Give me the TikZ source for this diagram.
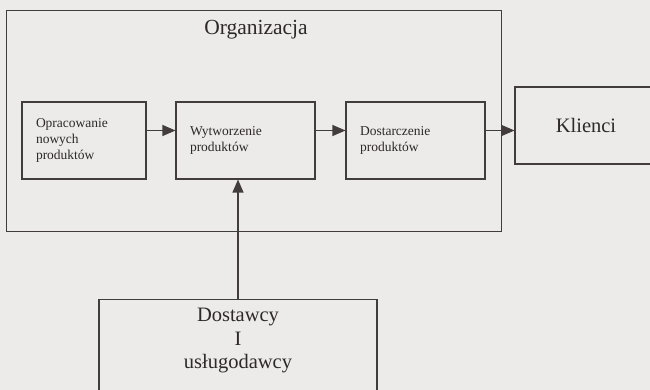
\documentclass[tikz,border=0pt]{standalone}
\usepackage{fontspec}
\setmainfont{Liberation Serif}
\usetikzlibrary{arrows.meta,positioning}

\definecolor{paper}{HTML}{ECEBE9}
\definecolor{ink}{HTML}{2E2828}
\definecolor{rule}{HTML}{433C3C}

\tikzset{
  box/.style={draw=rule,line width=1.1pt,text=ink,inner sep=0pt},
  stepbox/.style={box,minimum height=77pt,align=left,inner xsep=14pt,font=\fontsize{13.5}{16.2}\selectfont},
  bigtext/.style={text=ink,font=\fontsize{20.5}{23.5}\selectfont},
  arr/.style={draw=rule,line width=1.1pt,-{Triangle[length=13pt,width=11pt]}}
}

\begin{document}
\begin{tikzpicture}[x=1pt,y=-1pt]
\useasboundingbox (0,0) rectangle (650,390);
\fill[paper] (0,0) rectangle (650,390);
\clip (0,0) rectangle (650,390);
% organizacja
\node[box,minimum width=495pt,minimum height=221pt,anchor=north west] (org) at (6,10) {};
\node[bigtext,font=\fontsize{21.5}{24}\selectfont,anchor=base] (orgname) at (256,35) {Organizacja};
\node[stepbox,text width=96pt] (b1) at (84,140.5) {Opracowanie\\nowych\\produktów};
\node[stepbox,text width=111pt] (b2) at (245.5,140.5) {Wytworzenie\\produktów};
\node[stepbox,text width=111pt] (b3) at (415.5,140.5) {Dostarczenie\\produktów};
% klienci i dostawcy
\node[box,bigtext,minimum width=142pt,minimum height=77pt] (kl) at (586,125.5) {Klienci};
\node[box,minimum width=278pt,minimum height=110pt,anchor=north] (dost) at (238,299) {};
\node[bigtext,align=center,inner sep=0pt,anchor=north] (dostname) at ([yshift=-9pt]dost.north) {Dostawcy\\I\\usługodawcy};
\draw[arr] ([yshift=10pt]b1.east) coordinate (a1) -- (a1 -| b2.west);
\draw[arr] ([yshift=10pt]b2.east) coordinate (a2) -- (a2 -| b3.west);
\draw[arr] ([yshift=10pt]b3.east) coordinate (a3) -- (a3 -| kl.west);
\draw[arr] (dost.north) -- (dost.north |- b2.south);
\end{tikzpicture}
\end{document}
